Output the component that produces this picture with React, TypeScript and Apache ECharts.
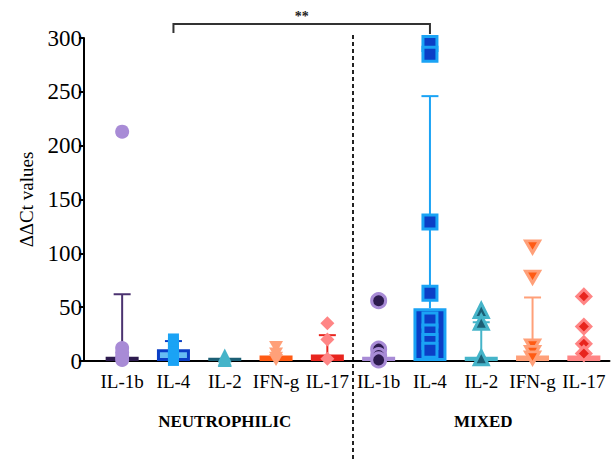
import React, { useEffect, useRef } from "react";
import * as echarts from "echarts";

const categories = ["IL-1b", "IL-4", "IL-2", "IFN-g", "IL-17", "IL-1b", "IL-4", "IL-2", "IFN-g", "IL-17"];
const categoryKeys = categories.map((c, i) => (i < 5 ? "N " : "M ") + c);
const groupLabels = ["NEUTROPHILIC", "MIXED"];
const yTicks = { min: 0, max: 300, interval: 50 };
const barMeans = [4, 11, 3, 5, 6, 4, 49, 4, 5, 5];
const errorTops: (number | null)[] = [62, 18.5, null, null, 24, null, 246, 36, 59, null];

const ptsN_IL1b = [213, 12, 8, 4, 1];
const ptsN_IL4 = [20, 16, 12, 8, 4, 1];
const ptsN_IL2 = [5, 2, 1];
const ptsN_IFNg = [13, 7, 3, 1];
const ptsN_IL17 = [35, 20, 2];
const ptsM_IL1b = [56, 11, 5, 1];
const ptsM_IL4 = [295, 285, 129, 63, 38, 27, 18, 10];
const ptsM_IL2 = [47, 36, 3];
const ptsM_IFNg = [106, 78, 14, 8, 3];
const ptsM_IL17 = [60, 32, 16, 7];
const points = [ptsN_IL1b, ptsN_IL4, ptsN_IL2, ptsN_IFNg, ptsN_IL17, ptsM_IL1b, ptsM_IL4, ptsM_IL2, ptsM_IFNg, ptsM_IL17];
const significance = { from: 1, to: 6, label: "**" };

const DOWN_TRI = "path://M0,0L10,0L5,9Z";
const symbols = ["circle", "rect", "triangle", DOWN_TRI, "diamond", "circle", "rect", "triangle", DOWN_TRI, "diamond"];
const barFill = ["#2d1b4e", "#66bdf3", "#1c5f75", "#ff5b14", "#e8251e", "#a88bd6", "#0b3fc6", "#45b4c9", "#ffa079", "#ff8585"];
const barBorder = ["#2d1b4e", "#0b3fc6", "#1c5f75", "#ff5b14", "#e8251e", "#a88bd6", "#1aa3f5", "#45b4c9", "#ffa079", "#ff8585"];
const errColor = ["#4b3270", "#0b3fc6", "#1c5f75", "#ff5b14", "#e8251e", "#a88bd6", "#1aa3f5", "#45b4c9", "#ffa079", "#ff8585"];
const ptFill = ["#a88bd6", "#1aa3f5", "#45b4c9", "#ffa079", "#ff8585", "#2d1b4e", "#0b3fc6", "#1c5f75", "#ff5b14", "#e8251e"];
const ptBorder = ["#a88bd6", "#1aa3f5", "#45b4c9", "#ffa079", "#ff8585", "#a88bd6", "#1aa3f5", "#45b4c9", "#ffa079", "#ff8585"];
const ptSize = [14, [11, 12], 14, [14, 12], 14, 14, 14, 14, [14, 12], 14];

const FONT = "'Liberation Serif', 'Times New Roman', serif";

export default function App() {
  const ref = useRef<HTMLDivElement>(null);
  useEffect(() => {
    document.body.style.margin = "0";
    const chart = echarts.init(ref.current!, null, { renderer: "svg" });
    const scatterSeries = points.map((arr, i) => ({
      type: "scatter",
      symbol: symbols[i],
      symbolSize: ptSize[i],
      z: 5,
      itemStyle: {
        color: ptFill[i],
        borderColor: ptBorder[i],
        borderWidth: i >= 5 ? 3 : 0,
        opacity: 1,
      },
      data: arr.map((v) => [i, v]),
    }));
    chart.setOption({
      animation: false,
      grid: { left: 96.5, right: 4.5, top: 38, bottom: 98 },
      xAxis: {
        type: "category",
        data: categoryKeys,
        axisLine: { lineStyle: { color: "#000", width: 2 } },
        axisTick: { alignWithLabel: true, length: 4, lineStyle: { color: "#000", width: 2 } },
        axisLabel: {
          formatter: (_v: string, idx: number) => categories[idx],
          color: "#000",
          fontFamily: FONT,
          fontSize: 19,
          margin: 11,
          interval: 0,
        },
      },
      yAxis: {
        type: "value",
        min: yTicks.min,
        max: yTicks.max,
        interval: yTicks.interval,
        offset: 12.5,
        name: "ΔΔCt values",
        nameLocation: "middle",
        nameGap: 48,
        nameTextStyle: { color: "#000", fontFamily: FONT, fontSize: 19 },
        axisLine: { show: true, lineStyle: { color: "#000", width: 2 } },
        axisTick: { show: true, length: 5, lineStyle: { color: "#000", width: 2 } },
        axisLabel: { color: "#000", fontFamily: FONT, fontSize: 23, margin: 2 },
        splitLine: { show: false },
      },
      series: [
        {
          type: "bar",
          barWidth: 33,
          z: 2,
          data: barMeans.map((v, i) => ({
            value: v,
            itemStyle: { color: barFill[i], borderColor: barBorder[i], borderWidth: 3 },
          })),
        },
        {
          type: "custom",
          z: 3,
          renderItem: (_p: any, api: any) => {
            const idx = api.value(0);
            const top = api.value(2);
            const base = api.coord([idx, api.value(1)]);
            const t = api.coord([idx, top]);
            const c = errColor[idx];
            return {
              type: "group",
              children: [
                { type: "line", shape: { x1: base[0], y1: base[1], x2: t[0], y2: t[1] }, style: { stroke: c, lineWidth: 2 } },
                { type: "line", shape: { x1: t[0] - 8.5, y1: t[1], x2: t[0] + 8.5, y2: t[1] }, style: { stroke: c, lineWidth: 2 } },
              ],
            };
          },
          data: errorTops
            .map((t, i) => (t == null ? null : [i, barMeans[i], t]))
            .filter((d) => d !== null),
        },
        ...scatterSeries,
      ],
    });

    const p = (i: number, v: number) => chart.convertToPixel({ gridIndex: 0 }, [categoryKeys[i], v]) as number[];
    const a = p(significance.from, 0);
    const b = p(significance.to, 0);
    const d4 = p(4, 0);
    const d5 = p(5, 0);
    const midX = (d4[0] + d5[0]) / 2;
    const baseY = d4[1];
    const n0 = p(0, 0), n4 = p(4, 0), m0 = p(5, 0), m4 = p(9, 0);
    chart.setOption({
      graphic: [
        { type: "line", shape: { x1: 84, y1: baseY, x2: 97, y2: baseY }, style: { stroke: "#000", lineWidth: 2 } },
        { type: "line", shape: { x1: midX, y1: 35, x2: midX, y2: 459 }, style: { stroke: "#222", lineWidth: 2, lineDash: [4, 3] } },
        {
          type: "polyline",
          shape: { points: [[a[0], 33], [a[0], 24], [b[0], 24], [b[0], 34]] },
          style: { stroke: "#333", lineWidth: 2, fill: null },
        },
        {
          type: "text",
          x: (a[0] + b[0]) / 2,
          y: 16,
          style: { text: significance.label, fontFamily: FONT, fontSize: 14, fontWeight: "bold", fill: "#222", align: "center", verticalAlign: "middle" },
        },
        {
          type: "text",
          x: (n0[0] + n4[0]) / 2,
          y: 421,
          style: { text: groupLabels[0], fontFamily: FONT, fontSize: 17, fontWeight: "bold", fill: "#000", align: "center", verticalAlign: "middle" },
        },
        {
          type: "text",
          x: (m0[0] + m4[0]) / 2 + 2,
          y: 421,
          style: { text: groupLabels[1], fontFamily: FONT, fontSize: 17, fontWeight: "bold", fill: "#000", align: "center", verticalAlign: "middle" },
        },
      ],
    });
    return () => chart.dispose();
  }, []);
  return <div ref={ref} style={{ width: 614, height: 459 }} />;
}
